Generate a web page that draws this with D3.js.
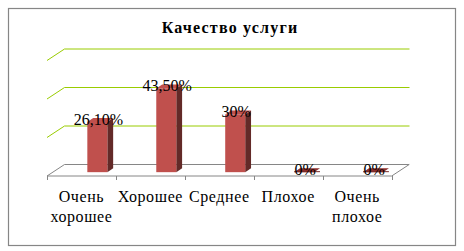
<!DOCTYPE html>
<html><head><meta charset="utf-8">
<script src="https://cdn.jsdelivr.net/npm/d3@7/dist/d3.min.js"></script>
<style>body{margin:0;background:#fff;}svg{display:block;}</style>
</head><body>
<script>
const title = "Качество услуги";
const categories = ["Очень хорошее", "Хорошее", "Среднее", "Плохое", "Очень плохое"];
const values = [0.261, 0.435, 0.30, 0, 0];
const valueLabels = ["26,10%", "43,50%", "30%", "0%", "0%"];
const gridTicks = [0, 0.2, 0.4, 0.6];

const W = 464, H = 251;
const svg = d3.select("body").append("svg").attr("width", W).attr("height", H);
svg.append("rect").attr("x", 8.5).attr("y", 8.5).attr("width", 447).attr("height", 237)
  .attr("fill", "#fff").attr("stroke", "#868686").attr("stroke-width", 1.2);

svg.append("text").attr("x", 230).attr("y", 33).attr("text-anchor", "middle")
  .attr("font-family", "Liberation Serif").attr("font-weight", "bold").attr("font-size", 16)
  .attr("letter-spacing", 1.2).text(title);

// geometry
const frontY = 176, depthX = 17.5, depthY = -11.5;
const x = d3.scaleBand().domain(categories).range([47, 391.7]).padding(0);
const bw = x.bandwidth();
const yBack = d3.scaleLinear().domain([0, 0.6]).range([frontY + depthY, frontY + depthY - 115.5]);
const barBottom = frontY + depthY / 3;
const yBar = d3.scaleLinear().domain([0, 0.6]).range([barBottom, barBottom - 115.5]);

// gridlines (back wall + left wall)
const grid = svg.append("g");
gridTicks.forEach(t => {
  if (t === 0) return;
  const yy = yBack(t);
  grid.append("line").attr("x1", 47 + depthX).attr("x2", 391.7 + depthX + 0.3)
    .attr("y1", yy).attr("y2", yy).attr("stroke", "#99CC00").attr("stroke-width", 1);
  grid.append("line").attr("x1", 47).attr("y1", yy - depthY).attr("x2", 47 + depthX).attr("y2", yy)
    .attr("stroke", "#99CC00").attr("stroke-width", 1);
});

// floor
const floorC = "#868686";
const yb = yBack(0);
svg.append("line").attr("x1", 47 + depthX).attr("x2", 391.7 + depthX).attr("y1", yb).attr("y2", yb).attr("stroke", floorC);
svg.append("line").attr("x1", 47).attr("x2", 391.7).attr("y1", frontY).attr("y2", frontY).attr("stroke", floorC);
svg.append("line").attr("x1", 47).attr("y1", frontY).attr("x2", 47 + depthX).attr("y2", yb).attr("stroke", floorC);
svg.append("line").attr("x1", 391.7).attr("y1", frontY).attr("x2", 391.7 + depthX).attr("y2", yb).attr("stroke", floorC);
// ticks
const bounds = categories.map(c => x(c)).concat([x(categories[categories.length - 1]) + bw]);
bounds.forEach(b => {
  svg.append("line").attr("x1", Math.round(b) + 0.5).attr("x2", Math.round(b) + 0.5)
    .attr("y1", frontY).attr("y2", frontY + 4).attr("stroke", floorC);
});

// bars
const bw2 = bw * 0.29, dxb = depthX / 3, dyb = depthY / 3;
const bars = svg.append("g");
categories.forEach((c, i) => {
  const x0 = x(c) + bw * 0.585;
  const yt = yBar(values[i]);
  const x1 = x0 + bw2;
  if (values[i] > 0) {
    bars.append("polygon").attr("points", [[x1, yt], [x1 + dxb, yt + dyb], [x1 + dxb, barBottom + dyb], [x1, barBottom]].join(" "))
      .attr("fill", "#632A28");
    bars.append("rect").attr("x", x0).attr("y", yt).attr("width", bw2).attr("height", barBottom - yt).attr("fill", "#C0504D");
  }
  bars.append("polygon").attr("points", [[x0, yt], [x1, yt], [x1 + dxb, yt + dyb], [x0 + dxb, yt + dyb]].join(" "))
    .attr("fill", values[i] > 0 ? "#C0504D" : "#8B2E2C");
  if (values[i] === 0) {
    bars.append("line").attr("x1", x0).attr("x2", x1 + dxb).attr("y1", yt - 0.5).attr("y2", yt - 0.5).attr("stroke", "#7A2B29");
  }
  svg.append("text").attr("x", x0 + bw2 / 2 + 1).attr("y", yt + 3)
    .attr("text-anchor", "middle").attr("font-family", "Liberation Serif").attr("font-size", 16)
    .attr("fill", "#000").text(valueLabels[i]);
});

// category labels
categories.forEach(c => {
  const words = c.split(" ");
  const t = svg.append("text").attr("text-anchor", "middle").attr("font-family", "Liberation Serif")
    .attr("font-size", 16).attr("letter-spacing", 0.6).attr("fill", "#000");
  words.forEach((w, j) => {
    t.append("tspan").attr("x", x(c) + bw / 2).attr("y", 201.5 + j * 20).text(w);
  });
});
</script>
</body></html>
